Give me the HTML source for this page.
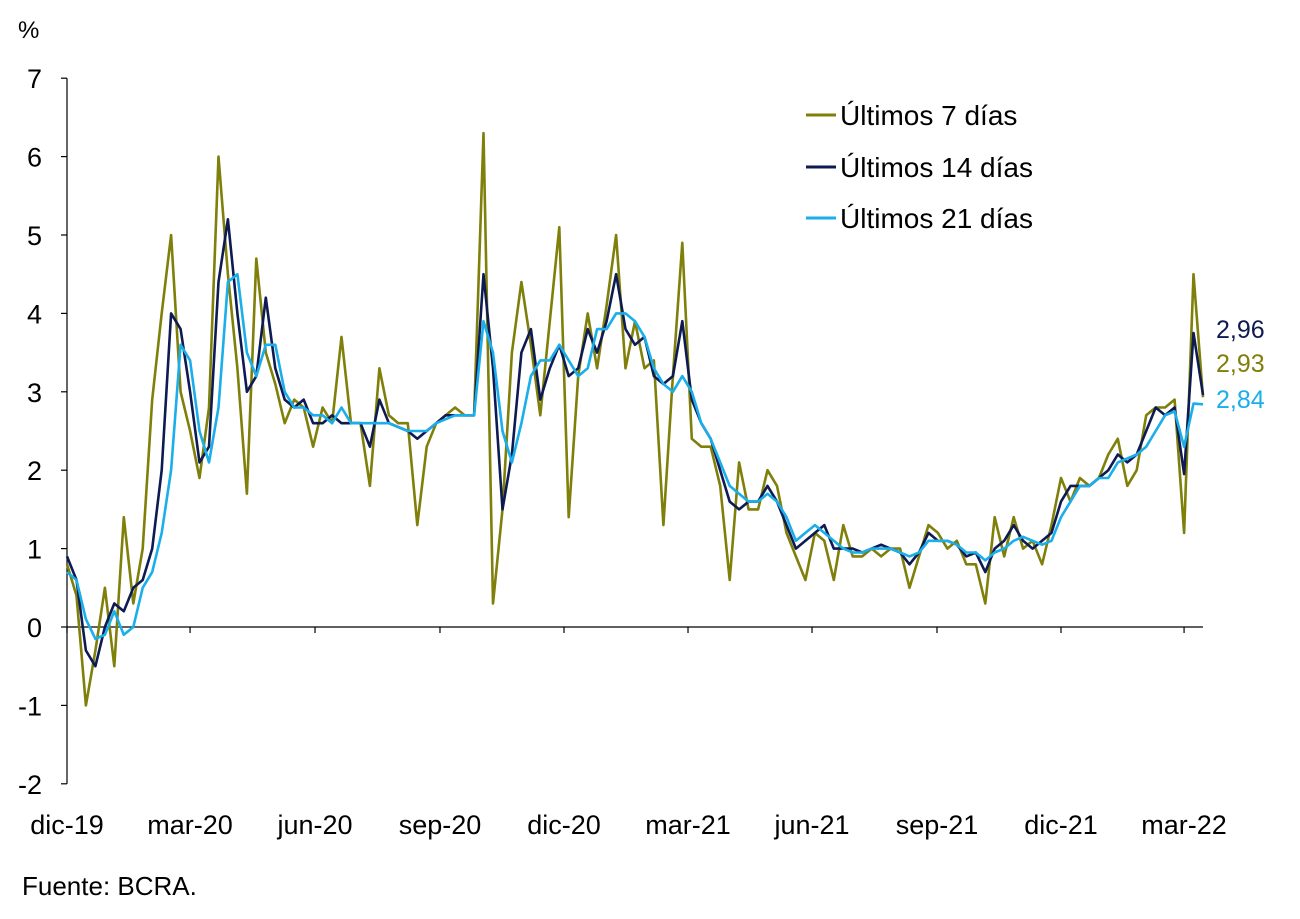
<!DOCTYPE html>
<html><head><meta charset="utf-8">
<style>
html,body{margin:0;padding:0;background:#fff;}
svg{display:block;font-family:"Liberation Sans",Arial,sans-serif;}
</style></head>
<body>
<svg id="chart" width="1300" height="919" viewBox="0 0 1300 919" xmlns="http://www.w3.org/2000/svg">
<text x="18" y="38" font-size="24" fill="#000">%</text>
<g id="axes"></g>
<g id="series"></g>
<g>
<line x1="806" y1="115" x2="836" y2="115" stroke="#7f7f0a" stroke-width="3"/>
<text x="840" y="125" font-size="28" fill="#000">Últimos 7 días</text>
<line x1="806" y1="167" x2="836" y2="167" stroke="#0d1b52" stroke-width="3"/>
<text x="840" y="177" font-size="28" fill="#000">Últimos 14 días</text>
<line x1="806" y1="218" x2="836" y2="218" stroke="#1aaeea" stroke-width="3"/>
<text x="840" y="228" font-size="28" fill="#000">Últimos 21 días</text>
</g>
<text x="1216" y="338" font-size="25" fill="#0d1b52">2,96</text>
<text x="1216" y="372" font-size="25" fill="#7f7f0a">2,93</text>
<text x="1216" y="408" font-size="25" fill="#1aaeea">2,84</text>
<text x="22" y="895" font-size="26" fill="#000">Fuente: BCRA.</text>
</svg>
<script>
const yTicks = [-2,-1,0,1,2,3,4,5,6,7];
const xTickLabels = ["dic-19","mar-20","jun-20","sep-20","dic-20","mar-21","jun-21","sep-21","dic-21","mar-22"];
const xTickIdx = [0,13,26.2,39.4,52.5,65.6,78.7,91.9,105,118];
const s7 = [0.8,0.4,-1.0,-0.3,0.5,-0.5,1.4,0.3,1.0,2.9,
4.0,5.0,3.0,2.5,1.9,2.8,6.0,4.5,3.3,1.7,
4.7,3.5,3.1,2.6,2.9,2.8,2.3,2.8,2.6,3.7,
2.6,2.6,1.8,3.3,2.7,2.6,2.6,1.3,2.3,2.6,
2.7,2.8,2.7,2.7,6.3,0.3,1.5,3.5,4.4,3.6,
2.7,3.9,5.1,1.4,3.2,4.0,3.3,4.1,5.0,3.3,
3.9,3.3,3.4,1.3,3.2,4.9,2.4,2.3,2.3,1.8,
0.6,2.1,1.5,1.5,2.0,1.8,1.2,0.9,0.6,1.2,
1.1,0.6,1.3,0.9,0.9,1.0,0.9,1.0,1.0,0.5,
0.9,1.3,1.2,1.0,1.1,0.8,0.8,0.3,1.4,0.9,
1.4,1.0,1.1,0.8,1.3,1.9,1.6,1.9,1.8,1.9,
2.2,2.4,1.8,2.0,2.7,2.8,2.8,2.9,1.2,4.5,2.93];
const s14 = [0.9,0.6,-0.3,-0.5,0.0,0.3,0.2,0.5,0.6,1.0,
2.0,4.0,3.8,3.0,2.1,2.3,4.4,5.2,4.0,3.0,
3.2,4.2,3.3,2.9,2.8,2.9,2.6,2.6,2.7,2.6,
2.6,2.6,2.3,2.9,2.6,2.55,2.5,2.4,2.5,2.6,
2.7,2.7,2.7,2.7,4.5,3.3,1.5,2.2,3.5,3.8,
2.9,3.3,3.6,3.2,3.3,3.8,3.5,3.9,4.5,3.8,
3.6,3.7,3.2,3.1,3.2,3.9,2.9,2.6,2.4,2.0,
1.6,1.5,1.6,1.6,1.8,1.6,1.3,1.0,1.1,1.2,
1.3,1.0,1.0,1.0,0.95,1.0,1.05,1.0,0.95,0.8,
0.95,1.2,1.1,1.1,1.05,0.9,0.95,0.7,1.0,1.1,
1.3,1.1,1.0,1.1,1.2,1.6,1.8,1.8,1.8,1.9,
2.0,2.2,2.1,2.2,2.5,2.8,2.7,2.8,1.95,3.75,2.96];
const s21 = [0.7,0.6,0.1,-0.15,-0.1,0.2,-0.1,0.0,0.5,0.7,
1.2,2.0,3.6,3.4,2.5,2.1,2.8,4.4,4.5,3.5,
3.2,3.6,3.6,3.0,2.8,2.8,2.7,2.7,2.6,2.8,
2.6,2.6,2.6,2.6,2.6,2.55,2.5,2.5,2.5,2.6,
2.65,2.7,2.7,2.7,3.9,3.5,2.5,2.1,2.6,3.2,
3.4,3.4,3.6,3.4,3.2,3.3,3.8,3.8,4.0,4.0,
3.9,3.7,3.3,3.1,3.0,3.2,3.0,2.6,2.4,2.1,
1.8,1.7,1.6,1.6,1.7,1.6,1.4,1.1,1.2,1.3,
1.2,1.1,1.0,0.95,0.95,1.0,1.0,1.0,0.95,0.9,
0.95,1.1,1.1,1.1,1.05,0.95,0.95,0.85,0.95,1.0,
1.1,1.15,1.1,1.05,1.1,1.4,1.6,1.8,1.8,1.9,
1.9,2.1,2.15,2.2,2.3,2.5,2.7,2.75,2.3,2.85,2.84];

const NS="http://www.w3.org/2000/svg";
const x0=67, xStep=(1203-67)/120;
const xScale=i=>x0+i*xStep;
const yScale=v=>627-v*78.4;
const axes=document.getElementById('axes');
const series=document.getElementById('series');
function mk(tag,attrs,parent){const e=document.createElementNS(NS,tag);for(const k in attrs)e.setAttribute(k,attrs[k]);parent.appendChild(e);return e;}

const yAxis=mk('line',{x1:x0,y1:yScale(7),x2:x0,y2:yScale(-2),stroke:'#000','stroke-width':1.2},axes);


const xAxis=mk('line',{x1:x0,y1:yScale(0),x2:1203,y2:yScale(0),stroke:'#000','stroke-width':1.2},axes);


yTicks.forEach(v=>{
  const t=mk('line',{x1:x0-6,y1:yScale(v),x2:x0,y2:yScale(v),stroke:'#000','stroke-width':1.2},axes);
  
  
  const l=mk('text',{x:42,y:yScale(v)+10,'font-size':27,'text-anchor':'end',fill:'#000'},axes);
  l.textContent=String(v);
  
  
});
xTickLabels.forEach((lab,i)=>{
  const x=xScale(xTickIdx[i]);
  const t=mk('line',{x1:x,y1:yScale(0),x2:x,y2:yScale(0)+6,stroke:'#000','stroke-width':1.2},axes);
  
  
  const l=mk('text',{x:x,y:834,'font-size':27,'text-anchor':'middle',fill:'#000'},axes);
  l.textContent=lab;
  
  
});
function line(data,color,name){
  const d=data.map((v,i)=>(i?'L':'M')+xScale(i).toFixed(1)+','+yScale(v).toFixed(1)).join('');
  const p=mk('path',{d:d,fill:'none',stroke:color,'stroke-width':2.6,'stroke-linejoin':'round'},series);
  
  
}
line(s7,'#7f7f0a','series-7-days');
line(s14,'#0d1b52','series-14-days');
line(s21,'#1aaeea','series-21-days');
</script>
</body></html>
